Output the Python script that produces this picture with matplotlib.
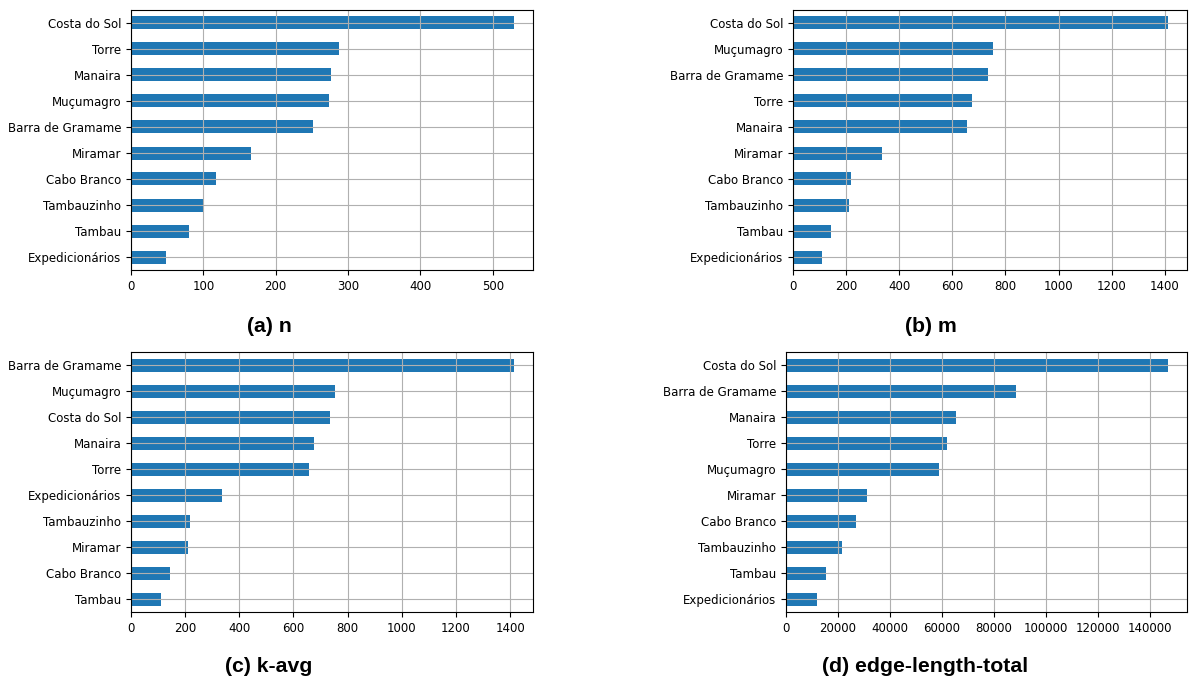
import matplotlib
matplotlib.use("Agg")
import matplotlib.pyplot as plt

# bairros ordenados de cima para baixo em cada painel
nomes_n = ["Costa do Sol", "Torre", "Manaira", "Muçumagro", "Barra de Gramame",
           "Miramar", "Cabo Branco", "Tambauzinho", "Tambau", "Expedicionários"]
valores_n = [529, 287, 277, 274, 252, 166, 117, 100, 80, 48]

nomes_m = ["Costa do Sol", "Muçumagro", "Barra de Gramame", "Torre", "Manaira",
           "Miramar", "Cabo Branco", "Tambauzinho", "Tambau", "Expedicionários"]
valores_m = [1413, 752, 734, 675, 656, 335, 217, 209, 143, 109]

nomes_kavg = ["Barra de Gramame", "Muçumagro", "Costa do Sol", "Manaira", "Torre",
              "Expedicionários", "Tambauzinho", "Miramar", "Cabo Branco", "Tambau"]
valores_kavg = [1414, 754, 735, 676, 657, 335, 218, 210, 144, 111]

nomes_edge = ["Costa do Sol", "Barra de Gramame", "Manaira", "Torre", "Muçumagro",
              "Miramar", "Cabo Branco", "Tambauzinho", "Tambau", "Expedicionários"]
valores_edge = [147000, 88500, 65500, 62100, 58900, 31300, 26800, 21700, 15300, 11800]

legendas = ["(a) n", "(b) m", "(c) k-avg", "(d) edge-length-total"]

W, H = 1196, 681
fig = plt.figure(figsize=(W / 100, H / 100), dpi=100)

# caixas dos eixos em pixels: esquerda, direita, topo, base
caixas = [(131, 533, 10, 270), (793, 1187, 10, 270),
          (131, 533, 352, 612), (786, 1187, 352, 612)]
# posicao (x, y) de cada legenda de subfigura, em pixels
pos_legenda = [(269, 327), (931, 327), (269, 667), (925, 667)]
paineis = [(nomes_n, valores_n), (nomes_m, valores_m),
           (nomes_kavg, valores_kavg), (nomes_edge, valores_edge)]

for (nomes, vals), (x0, x1, y0, y1), (lx, ly), titulo in zip(paineis, caixas, pos_legenda, legendas):
    ax = fig.add_axes([x0 / W, 1 - y1 / H, (x1 - x0) / W, (y1 - y0) / H])
    pos = list(range(len(nomes)))
    ax.barh(pos, vals[::-1], height=0.5, color="#1f77b4")
    ax.set_yticks(pos)
    ax.set_yticklabels(nomes[::-1])
    ax.set_ylim(-0.5, len(nomes) - 0.5)
    ax.set_xlim(0, max(vals) * 1.05)
    ax.tick_params(labelsize=8.5)
    ax.grid(True)
    fig.text(lx / W, 1 - ly / H, titulo, ha="center", va="center",
             fontsize=15.3, fontweight="bold", family="Liberation Sans")

fig.savefig("out.png", dpi=100)
